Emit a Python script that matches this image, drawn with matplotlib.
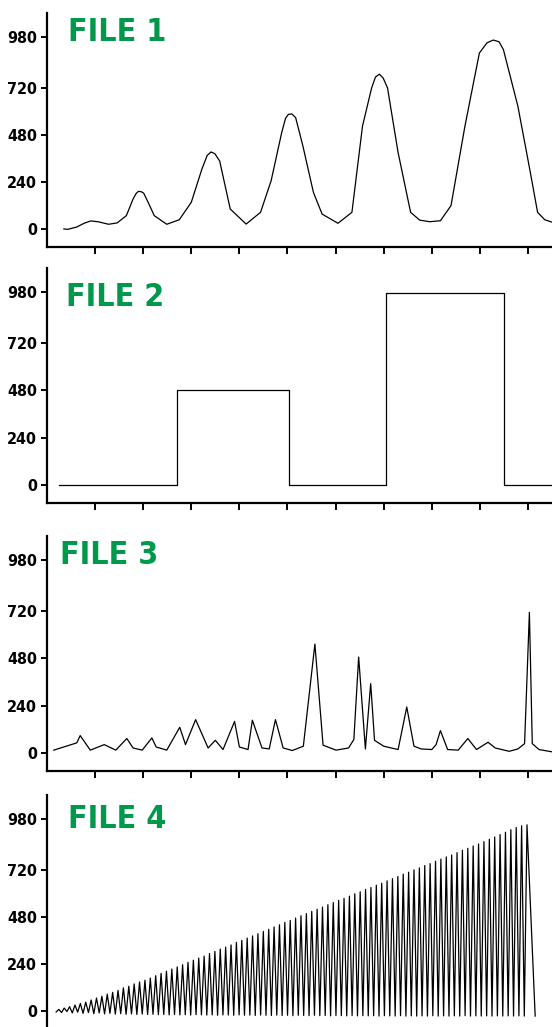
import numpy as np
import matplotlib
matplotlib.use('Agg')
import matplotlib.pyplot as plt

plt.rcParams['font.family'] = ['DejaVu Sans']
plt.rcParams['font.stretch'] = 'condensed'

# y ticks shared by all panels
y_ticks = [0, 240, 480, 720, 980]
x_ticks = [10, 20, 30, 40, 50, 60, 70, 80, 90, 100]

# FILE 1 - smooth waves
file1_x = [3.5, 4.3, 6.2, 7.7, 9.1, 10.6, 12.8, 14.6, 16.5, 17.9, 18.5, 19.0, 19.6, 20.1, 21.2,
           22.3, 24.9, 27.5, 30.0, 32.2, 33.3, 34.1, 34.9, 35.9, 38.1, 41.4, 44.4,
           46.6, 48.8, 49.6, 50.2, 50.9, 51.7, 53.2, 55.4, 57.2, 60.5, 63.4, 65.6,
           67.5, 68.3, 69.1, 69.9, 70.8, 73.0, 75.6, 77.5, 79.6, 81.8, 84.0, 86.9, 89.9,
           91.5, 92.8, 94.0, 94.9, 97.9, 100.5, 102.0, 103.5, 105.1]
file1_y = [0, -2, 10, 29, 41, 37, 24, 31, 68, 153, 180, 192, 190, 183, 127,
           68, 24, 47, 136, 305, 375, 393, 384, 347, 102, 25, 85,
           246, 492, 565, 585, 587, 568, 424, 186, 76, 29, 85, 525,
           720, 775, 790, 770, 720, 390, 85, 45, 37, 42, 119, 525, 898,
           950, 964, 955, 915, 627, 288, 85, 47, 34]

# FILE 2 - steps
file2_x = [2.5, 27.1, 50.4, 70.4, 95.0, 105.5]
file2_y = [0, 480, 0, 975, 0, 0]

# FILE 3 - spikes
file3_x = [1.4, 6.2, 6.9, 9.0, 11.9, 14.3, 16.6, 17.9, 19.8, 21.8, 22.7, 24.9,
           27.6, 28.8, 30.9, 33.5, 35.0, 36.6, 39.0, 40.0, 41.8, 42.7, 44.7,
           46.2, 47.5, 49.1, 51.0, 53.3, 55.7, 57.4, 60.1, 62.7, 63.8, 64.8,
           66.2, 67.3, 68.1, 70.0, 73.0, 74.8, 76.3, 77.8, 80.0, 80.9, 81.8,
           83.3, 85.5, 87.5, 89.3, 91.7, 93.2, 96.1, 97.9, 99.3, 100.3, 100.9,
           102.3, 105.1]
file3_y = [14, 51, 88, 14, 42, 14, 73, 25, 14, 76, 30, 14,
           130, 42, 169, 25, 64, 17, 160, 30, 17, 166, 25,
           20, 169, 25, 12, 34, 553, 39, 14, 25, 68, 487,
           20, 352, 64, 34, 17, 233, 34, 20, 17, 42, 113,
           17, 14, 73, 17, 54, 25, 8, 20, 47, 714, 47,
           17, 5]

# FILE 4 - growing zigzag (peak, trough pairs)
file4_peaks = [8, 15, 22, 30, 38, 45, 56, 66, 75, 86, 95, 105, 118, 126, 138, 148,
               157, 168, 180, 192, 203, 214, 225, 236, 248, 259, 270, 280, 293, 304,
               316, 326, 337, 350, 360, 372, 383, 394, 406, 417, 429, 440, 452, 462,
               474, 486, 497, 508, 519, 530, 542, 553, 564, 575, 586, 598, 608, 620,
               630, 642, 652, 664, 675, 686, 698, 708, 720, 730, 742, 752, 764, 775,
               786, 796, 808, 820, 830, 842, 852, 864, 876, 888, 900, 912, 925, 936,
               945, 950]
file4_troughs = [-5, -8, -3, -10, -6, -12, -8, -14, -10, -15, -12, -16, -14, -17, -15,
                 -18, -16, -18, -17, -19, -18, -20, -18, -20, -19, -21, -19, -20, -21,
                 -20, -22, -20, -21, -22, -20, -22, -21, -23, -21, -22, -23, -21, -23,
                 -22, -24, -22, -23, -24, -22, -24, -23, -25, -23, -24, -25, -23, -25,
                 -24, -25, -24, -26, -24, -25, -26, -24, -26, -25, -26, -25, -26, -24,
                 -26, -25, -26, -25, -26, -24, -26, -25, -26, -25, -26, -25, -26, -25,
                 -26, -25, -26]


def main():
    fig = plt.figure(figsize=(5.52, 10.27), dpi=100)

    # panel boxes in pixels (top, bottom) of a 552x1027 canvas
    boxes = [(13, 247), (268, 503), (536, 771), (795, 1029)]
    title_pos = [(0.042, 0.985), (0.038, 0.94), (0.026, 0.985), (0.042, 0.96)]
    axes = []
    for top, bottom in boxes:
        ax = fig.add_axes([47 / 552, 1 - bottom / 1027, 505 / 552, (bottom - top) / 1027])
        axes.append(ax)

    axes[0].plot(file1_x, file1_y, color='black', lw=0.9)
    axes[1].step(file2_x, file2_y, where='post', color='black', lw=0.9)
    axes[2].plot(file3_x, file3_y, color='black', lw=0.9)

    # interleave peaks and troughs for file 4
    y4 = [file4_troughs[0]]
    for p, t in zip(file4_peaks, file4_troughs[1:] + [file4_troughs[-1]]):
        y4 += [p, t]
    x4 = list(np.linspace(1.9, 99.8, len(y4) - 1)) + [101.5]
    axes[3].plot(x4, y4, color='black', lw=0.9)

    for i, ax in enumerate(axes):
        ax.set_xlim(0, 105)
        ax.set_ylim(-92, 1102)
        ax.set_yticks(y_ticks)
        ax.set_xticks(x_ticks)
        ax.set_xticklabels([])
        ax.spines['top'].set_visible(False)
        ax.spines['right'].set_visible(False)
        for s in ('left', 'bottom'):
            ax.spines[s].set_linewidth(1.6)
        ax.tick_params(axis='y', length=4, width=1.4, labelsize=11.5, pad=3)
        ax.tick_params(axis='x', length=5, width=1.4)
        for lab in ax.get_yticklabels():
            lab.set_fontweight('bold')
            lab.set_fontstretch('condensed')
        tx, ty = title_pos[i]
        ax.text(tx, ty, f'FILE {i + 1}', transform=ax.transAxes, ha='left', va='top',
                fontsize=23, fontweight='heavy', fontstretch='condensed', color='#00994C')

    fig.savefig('out.png', dpi=100, facecolor='white')


if __name__ == '__main__':
    main()
